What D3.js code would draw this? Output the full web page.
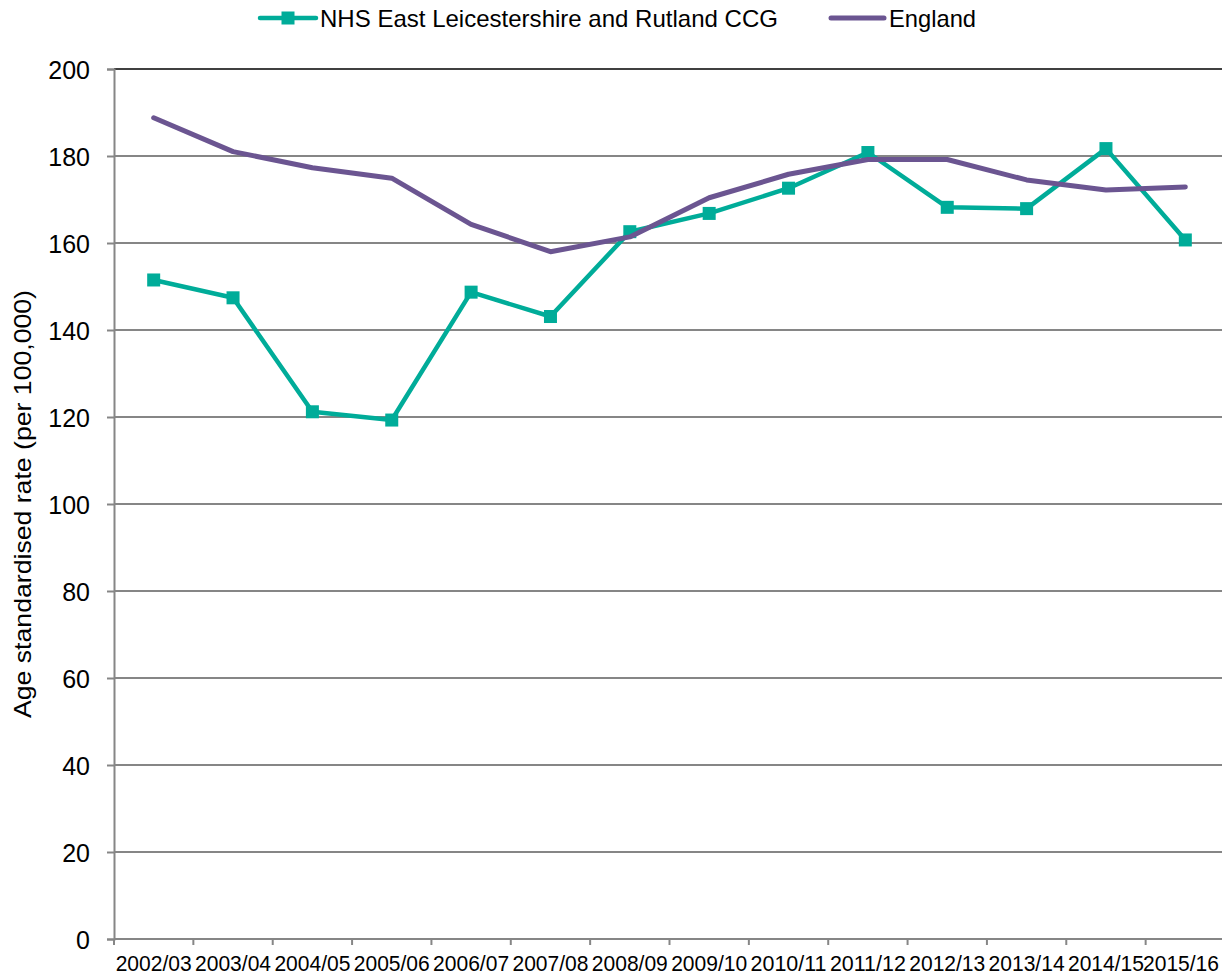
<!DOCTYPE html>
<html>
<head>
<meta charset="utf-8">
<script src="https://cdn.jsdelivr.net/npm/d3@7"></script>
<style>
  html, body { margin: 0; padding: 0; background: #ffffff; }
  svg { display: block; font-family: "Liberation Sans", Arial, sans-serif; }
</style>
</head>
<body>
<svg id="chart" width="1222" height="977"></svg>
<script>
// Financial years on the x axis
const years = ["2002/03", "2003/04", "2004/05", "2005/06", "2006/07", "2007/08", "2008/09",
               "2009/10", "2010/11", "2011/12", "2012/13", "2013/14", "2014/15", "2015/16"];

// Age standardised rate per 100,000
const ccgValues = [151.5, 147.4, 121.2, 119.3, 148.7, 143.1, 162.6,
                   166.8, 172.6, 180.8, 168.2, 167.9, 181.7, 160.7];
const englandValues = [188.8, 181.0, 177.3, 174.9, 164.3, 158.0, 161.4,
                       170.4, 175.8, 179.2, 179.2, 174.5, 172.2, 172.9];

const yTicks = [0, 20, 40, 60, 80, 100, 120, 140, 160, 180, 200];
const seriesNames = ["NHS East Leicestershire and Rutland CCG", "England"];
const yTitle = "Age standardised rate (per 100,000)";

const teal = "#00AC99";
const purple = "#6B5591";
const grey = "#868686";

const W = 1222;
const svg = d3.select("#chart");

const x = d3.scaleBand().domain(years).range([114, 1225]);
const y = d3.scaleLinear().domain([0, 200]).range([939, 69]);

// Horizontal gridlines
svg.append("g")
  .selectAll("line")
  .data(yTicks.filter(d => d > 0))
  .join("line")
  .attr("x1", 114).attr("x2", 1225)
  .attr("y1", d => y(d)).attr("y2", d => y(d))
  .attr("stroke", d => d === 200 ? "#000000" : grey)
  .attr("stroke-width", d => d === 200 ? 1.5 : 2);

// Y axis
const yAxis = svg.append("g")
  .attr("transform", "translate(114,0)")
  .call(d3.axisLeft(y).tickValues(yTicks).tickSize(7).tickPadding(17).tickFormat(d3.format("d")));
yAxis.select(".domain").attr("stroke", grey).attr("stroke-width", 2);
yAxis.selectAll(".tick line").attr("stroke", grey).attr("stroke-width", 2);
yAxis.selectAll(".tick text")
  .attr("font-size", 25)
  .attr("font-family", "Liberation Sans, Arial, sans-serif")
  .attr("fill", "#000")
  .attr("dy", "0.36em");

// X axis with ticks on band boundaries
const xAxisG = svg.append("g").attr("transform", "translate(0,939)");
xAxisG.append("line")
  .attr("x1", 114).attr("x2", 1225).attr("y1", 0).attr("y2", 0)
  .attr("stroke", grey).attr("stroke-width", 2);
xAxisG.selectAll("line.tick")
  .data(years)
  .join("line")
  .attr("class", "tick")
  .attr("x1", d => x(d)).attr("x2", d => x(d))
  .attr("y1", 0).attr("y2", 6)
  .attr("stroke", grey).attr("stroke-width", 2);
// Category labels; the last one is kept inside the right edge
const labelWidth = 76;
xAxisG.selectAll("text")
  .data(years)
  .join("text")
  .attr("x", d => Math.min(x(d) + x.bandwidth() / 2 + labelWidth / 2, W - 3))
  .attr("y", 31.5)
  .attr("text-anchor", "end")
  .attr("font-size", 22)
  .attr("textLength", labelWidth)
  .attr("lengthAdjust", "spacingAndGlyphs")
  .attr("fill", "#000")
  .text(d => d);

// Y axis title
svg.append("text")
  .attr("transform", "translate(31,504) rotate(-90)")
  .attr("text-anchor", "middle")
  .attr("font-size", 24)
  .attr("textLength", 428)
  .attr("lengthAdjust", "spacingAndGlyphs")
  .attr("fill", "#000")
  .text(yTitle);

const cx = d => x(d) + x.bandwidth() / 2;
const line = d3.line().x(d => cx(d[0])).y(d => y(d[1]));

const ccgData = years.map((yr, i) => [yr, ccgValues[i]]);
const engData = years.map((yr, i) => [yr, englandValues[i]]);

// CCG series with square markers
svg.append("path")
  .datum(ccgData)
  .attr("d", line)
  .attr("fill", "none")
  .attr("stroke", teal)
  .attr("stroke-width", 4.5)
  .attr("stroke-linejoin", "round");
svg.append("g")
  .selectAll("rect")
  .data(ccgData)
  .join("rect")
  .attr("x", d => cx(d[0]) - 6.5)
  .attr("y", d => y(d[1]) - 6.5)
  .attr("width", 13).attr("height", 13)
  .attr("fill", teal);

// England series
svg.append("path")
  .datum(engData)
  .attr("d", line)
  .attr("fill", "none")
  .attr("stroke", purple)
  .attr("stroke-width", 5)
  .attr("stroke-linejoin", "round")
  .attr("stroke-linecap", "round");

// Legend
const legend = svg.append("g");
legend.append("line")
  .attr("x1", 260).attr("x2", 316).attr("y1", 18).attr("y2", 18)
  .attr("stroke", teal).attr("stroke-width", 4.5).attr("stroke-linecap", "round");
legend.append("rect")
  .attr("x", 281.5).attr("y", 11.5).attr("width", 13).attr("height", 13)
  .attr("fill", teal);
legend.append("text")
  .attr("x", 320).attr("y", 27)
  .attr("font-size", 24)
  .attr("textLength", 458)
  .attr("lengthAdjust", "spacingAndGlyphs")
  .attr("fill", "#000")
  .text(seriesNames[0]);
legend.append("line")
  .attr("x1", 831).attr("x2", 884).attr("y1", 18).attr("y2", 18)
  .attr("stroke", purple).attr("stroke-width", 5).attr("stroke-linecap", "round");
legend.append("text")
  .attr("x", 889).attr("y", 27)
  .attr("font-size", 24)
  .attr("textLength", 87)
  .attr("lengthAdjust", "spacingAndGlyphs")
  .attr("fill", "#000")
  .text(seriesNames[1]);
</script>
</body>
</html>
